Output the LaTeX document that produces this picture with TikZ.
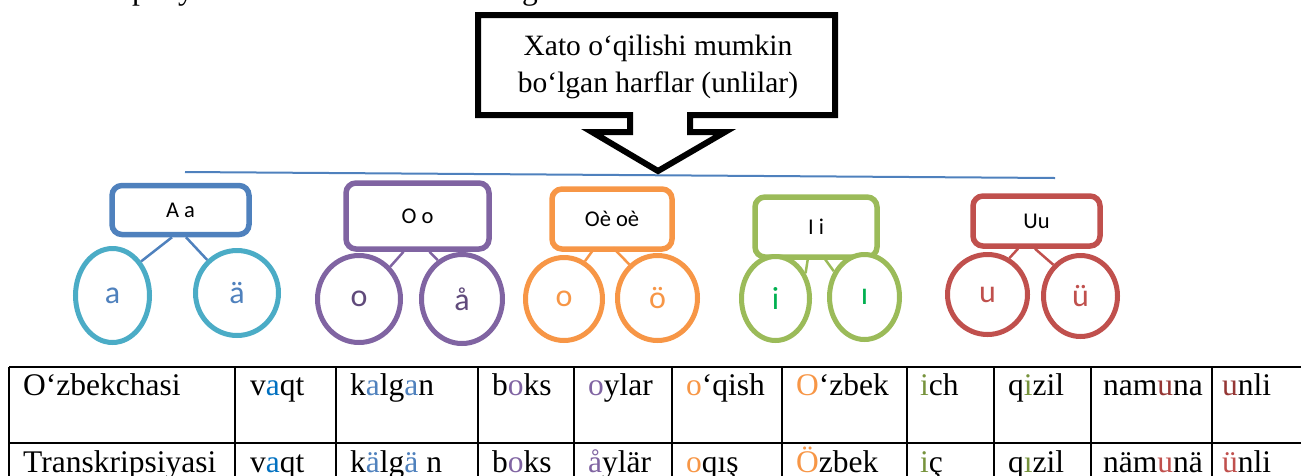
\documentclass[tikz,border=0pt]{standalone}
\usepackage{fontspec}
\setmainfont{Liberation Serif}
\newfontfamily\carl{Carlito}
\usetikzlibrary{shapes.geometric,calc}

\definecolor{cBlue}{HTML}{4F81BD}
\definecolor{cTeal}{HTML}{4BACC6}
\definecolor{cPurple}{HTML}{8064A2}
\definecolor{cPurpleDark}{HTML}{604A7B}
\definecolor{cOrange}{HTML}{F79646}
\definecolor{cGreen}{HTML}{9BBB59}
\definecolor{cGreenText}{HTML}{00B050}
\definecolor{cGreenDark}{HTML}{77933C}
\definecolor{cRed}{HTML}{C0504D}
\definecolor{cRedDark}{HTML}{953735}
\definecolor{cAzure}{HTML}{0070C0}

\begin{document}
\begin{tikzpicture}[x=1pt,y=-1pt,
  vbox/.style={draw=#1, line width=5.5pt, rounded corners=10pt, fill=white,
    inner sep=0pt, font=\carl\fontsize{22.5}{26}\selectfont},
  vring/.style={draw=#1, ellipse, line width=5pt, fill=white, inner sep=0pt,
    font=\carl\fontsize{32}{36}\selectfont},
  link/.style={draw=#1, line width=2.5pt},
  cell/.style={anchor=base west, inner sep=0pt, font=\fontsize{31.5}{36}\selectfont},
  grid/.style={draw=black, line width=2pt},
  callout/.style={draw=black, line width=6pt, miter limit=10}]
\useasboundingbox (0,0) rectangle (1301,475);
\clip (0,0) rectangle (1301,475);

% descenders of the preceding text line
\node[anchor=base, inner sep=0pt, font=\fontsize{31.5}{36}\selectfont] (tp) at (140,-1) {p};
\node[anchor=base, inner sep=0pt, font=\fontsize{31.5}{36}\selectfont] (ty) at (186,-1) {y};
\node[anchor=base, inner sep=0pt, font=\fontsize{31.5}{36}\selectfont] (tg) at (530,-1) {g};

% horizontal rail under the callout
\coordinate (railL) at (185,172);
\coordinate (railR) at (1055,178);
\draw[cBlue, line width=2pt] (railL) -- (railR);

% callout with downward arrow
\draw[callout] (478,15) -- (835,15) -- (835,115) -- (690,115) -- (690,132)
  -- (725,132) -- (658,171) -- (592,132) -- (630,132) -- (630,115)
  -- (478,115) -- cycle;
\node[align=center, inner sep=0pt, font=\fontsize{29.5}{37}\selectfont] (head) at (658,67)
  {Xato o‘qilishi mumkin\\bo‘lgan harflar (unlilar)};

% letter groups: boxes
\node[vbox=cBlue, minimum width=137pt, minimum height=49pt] (bA) at (180.5,210) {A a};
\node[vbox=cPurple, minimum width=143pt, minimum height=66pt] (bO) at (417.5,216) {O o};
\node[vbox=cOrange, minimum width=120pt, minimum height=60pt] (bOe) at (612,219) {Oè oè};
\node[vbox=cGreen, minimum width=122pt, minimum height=60pt] (bI) at (816,227) {I i};
\node[vbox=cRed, minimum width=127pt, minimum height=50pt] (bU) at (1036.5,221) {Uu};

% letter groups: variants
\node[vring=cTeal, minimum width=74pt, minimum height=94pt, text=cBlue] (cA1) at (112.5,295.5) {a};
\node[vring=cTeal, minimum width=83pt, minimum height=85pt, text=cBlue] (cA2) at (237,293) {ä};
\node[vring=cPurple, minimum width=83pt, minimum height=87pt, text=cPurpleDark] (cO1) at (359,299) {o};
\node[vring=cPurple, minimum width=81pt, minimum height=89pt, text=cPurpleDark] (cO2) at (462,299) {å};
\node[vring=cOrange, minimum width=77pt, minimum height=83pt, text=cOrange] (cOe1) at (564,299) {o};
\node[vring=cOrange, minimum width=80pt, minimum height=85pt, text=cOrange] (cOe2) at (657.5,298) {ö};
\node[vring=cGreen, minimum width=68pt, minimum height=84pt, text=cGreenText] (cI1) at (775.5,298.5) {i};
\node[vring=cGreen, minimum width=70pt, minimum height=85pt, text=cGreenText] (cI2) at (864.5,297) {ı};
\node[vring=cRed, minimum width=80pt, minimum height=80pt, text=cRed] (cU1) at (987.5,294.5) {u};
\node[vring=cRed, minimum width=74pt, minimum height=81pt, text=cRed] (cU2) at (1080.5,296) {ü};

% connectors
\draw[link=cBlue] ($(bA.south)+(-8.5,0)$) -- (cA1.50);
\draw[link=cBlue] ($(bA.south)+(5.5,0)$) -- (cA2.132);
\draw[link=cPurple] ($(bO.south)+(-14,0)$) -- (cO1.46);
\draw[link=cPurple] ($(bO.south)+(12,0)$) -- (cO2.122);
\draw[link=cOrange] ($(bOe.south)+(-18,-3)$) -- (cOe1.61);
\draw[link=cOrange] ($(bOe.south)+(1,-4)$) -- (cOe2.130);
\draw[link=cGreen] ($(bI.south)+(-8,-2)$) -- (cI1.40);
\draw[link=cGreen] ($(bI.south)+(8,-2)$) -- (cI2.140);
\draw[link=cRed] ($(bU.south)+(-18.5,0)$) -- (cU1.59);
\draw[link=cRed] ($(bU.south)+(-1.5,0)$) -- (cU2.131);

% table grid
\draw[grid] (9,367) -- (1310,367);
\draw[grid] (9,443) -- (1310,443);
\foreach \cx in {9,235,336,478,574,672,782,907,994,1091,1212}
  \draw[grid] (\cx,367) -- (\cx,490);

% table, first row
\node[cell] (r1c0) at (23,395) {O‘zbekchasi};
\node[cell] (r1c1) at (250,395) {v\textcolor{cAzure}{a}qt};
\node[cell] (r1c2) at (350,395) {k\textcolor{cBlue}{a}lg\textcolor{cBlue}{a}n};
\node[cell] (r1c3) at (492,395) {b\textcolor{cPurple}{o}ks};
\node[cell] (r1c4) at (588,395) {\textcolor{cPurple}{o}ylar};
\node[cell] (r1c5) at (686,395) {\textcolor{cOrange}{o}‘qish};
\node[cell] (r1c6) at (796,395) {\textcolor{cOrange}{O}‘zbek};
\node[cell] (r1c7) at (920,395) {\textcolor{cGreenDark}{i}ch};
\node[cell] (r1c8) at (1008,395) {q\textcolor{cGreenDark}{i}zil};
\node[cell] (r1c9) at (1103,395) {nam\textcolor{cRedDark}{u}na};
\node[cell] (r1c10) at (1222,395) {\textcolor{cRedDark}{u}nli};

% table, second row
\node[cell] (r2c0) at (23,472) {Transkripsiyasi};
\node[cell] (r2c1) at (250,472) {v\textcolor{cAzure}{a}qt};
\node[cell] (r2c2) at (350,472) {k\textcolor{cBlue}{ä}lg\textcolor{cBlue}{ä} n};
\node[cell] (r2c3) at (492,472) {b\textcolor{cPurple}{o}ks};
\node[cell] (r2c4) at (588,472) {\textcolor{cPurple}{å}ylär};
\node[cell] (r2c5) at (686,472) {\textcolor{cOrange}{o}qış};
\node[cell] (r2c6) at (796,472) {\textcolor{cOrange}{Ö}zbek};
\node[cell] (r2c7) at (920,472) {\textcolor{cGreenDark}{i}ç};
\node[cell] (r2c8) at (1008,472) {q\textcolor{cGreenDark}{ı}zil};
\node[cell] (r2c9) at (1103,472) {näm\textcolor{cRed}{u}nä};
\node[cell] (r2c10) at (1222,472) {\textcolor{cRed}{ü}nli};
\end{tikzpicture}
\end{document}
